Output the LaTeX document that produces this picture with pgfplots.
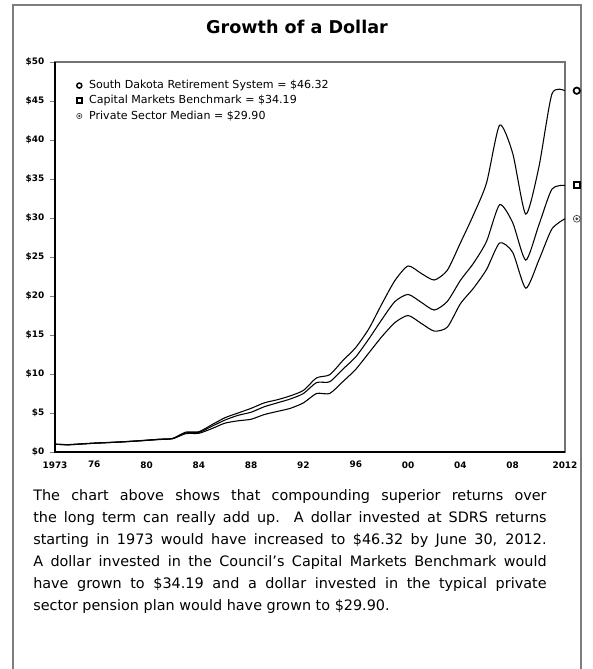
\documentclass[border=0pt]{standalone}
\usepackage{fontspec}
\setmainfont{DejaVu Sans}
\usepackage{pgfplots}
\pgfplotsset{compat=1.18}
\usepackage{pgfplotstable}

\definecolor{framegray}{RGB}{125,125,125}

% circle with a dot in the middle, for the private sector median
\pgfdeclareplotmark{odot}{%
  \pgfpathcircle{\pgfpoint{0pt}{0pt}}{\pgfplotmarksize}\pgfusepathqstroke
  \pgfpathcircle{\pgfpoint{0pt}{0pt}}{0.3\pgfplotmarksize}\pgfusepathqfillstroke}

% growth of $1 invested in 1973: SDRS, capital markets benchmark, private sector median
\pgfplotstableread{
year  sdrs   cmb    psm
1973  1.00   1.00   1.00
1974  0.95   0.93   0.92
1975  1.05   1.02   1.02
1976  1.15   1.12   1.12
1977  1.22   1.20   1.20
1978  1.30   1.28   1.28
1979  1.40   1.38   1.38
1980  1.52   1.50   1.48
1981  1.65   1.62   1.60
1982  1.75   1.72   1.70
1983  2.55   2.45   2.35
1984  2.60   2.50   2.40
1985  3.50   3.30   3.00
1986  4.40   4.10   3.70
1987  5.00   4.70   4.00
1988  5.60   5.10   4.20
1989  6.30   5.80   4.80
1990  6.70   6.30   5.20
1991  7.20   6.80   5.60
1992  7.90   7.50   6.30
1993  9.50   8.90   7.50
1994  9.90   9.00   7.50
1995  11.70  10.60  9.00
1996  13.40  12.20  10.60
1997  15.80  14.50  12.70
1998  19.00  17.00  14.80
1999  22.00  19.30  16.60
2000  23.85  20.20  17.50
2001  22.90  19.20  16.50
2002  22.05  18.20  15.50
2003  23.30  19.30  16.00
2004  26.80  22.00  19.00
2005  30.40  24.20  21.00
2006  34.50  27.00  23.40
2007  41.90  31.70  26.80
2008  38.30  29.40  25.60
2009  30.50  24.60  21.00
2010  36.50  29.10  24.60
2011  45.90  33.70  28.60
2012  46.32  34.19  29.90
}\growth

\begin{document}
\begin{tikzpicture}[x=0.75pt,y=0.75pt]
\useasboundingbox (0,0) rectangle (593,669);
% outer frame (open at the bottom)
\draw[framegray, line width=1.5pt] (13,0) -- (13,664) -- (581,664) -- (581,0);

\node[font=\bfseries\fontsize{13.2}{15}\selectfont] at (297,642) {Growth of a Dollar};

\begin{axis}[
  at={(41.25pt,162.75pt)}, anchor=south west,
  scale only axis, width=382.5pt, height=292.5pt,
  xmin=1973, xmax=2012, ymin=0, ymax=50,
  clip=false,
  axis line style={black!55, line width=0.8pt},
  xtick={1973,1976,1980,1984,1988,1992,1996,2000,2004,2008,2012},
  xticklabels={1973,76,80,84,88,92,96,00,04,08,2012},
  ytick={0,5,...,50},
  yticklabels={\$0,\$5,\$10,\$15,\$20,\$25,\$30,\$35,\$40,\$45,\$50},
  tick label style={font=\bfseries\fontsize{6.7}{7}\selectfont},
  xtick style={draw=none},
  ytick style={black!50, thin},
  ytick pos=left,
  tick align=outside, major tick length=3.5pt,
  yticklabel style={xshift=-1pt},
  legend style={at={(rel axis cs:0.038,0.957)}, anchor=north west,
    draw=none, fill=none, inner sep=0pt, row sep=1.6pt,
    font=\fontsize{8.3}{10}\selectfont,
    nodes={inner sep=1pt}},
  legend cell align=left,
  legend image code/.code={\draw[#1] plot coordinates {(0.1cm,0cm)};
    \path (0,0) (0.3cm,0cm);},
]
\draw[black, line width=1pt] (rel axis cs:0,1) -- (rel axis cs:0,0) -- (rel axis cs:1,0);

\addplot[black, line width=0.8pt, smooth, tension=0.4, forget plot] table[x=year, y=sdrs] {\growth};
\addplot[black, line width=0.8pt, smooth, tension=0.4, forget plot] table[x=year, y=cmb] {\growth};
\addplot[black, line width=0.8pt, smooth, tension=0.4, forget plot] table[x=year, y=psm] {\growth};

% end-value marks right of the axis
\addplot[only marks, mark=o, mark size=2.4pt, line width=1.3pt, forget plot] coordinates {(2012.9,46.32)};
\addplot[only marks, mark=square, mark size=2.3pt, line width=1.6pt, forget plot] coordinates {(2012.9,34.19)};
\addplot[only marks, mark=odot, mark size=2.6pt, black!75, line width=0.5pt, forget plot] coordinates {(2012.9,29.90)};

\addlegendimage{only marks, mark=o, mark size=1.9pt, line width=1.1pt}
\addlegendentry{South Dakota Retirement System = \$46.32}
\addlegendimage{only marks, mark=square, mark size=1.9pt, line width=1.3pt}
\addlegendentry{Capital Markets Benchmark = \$34.19}
\addlegendimage{only marks, mark=odot, mark size=2pt, black!75, line width=0.45pt}
\addlegendentry{Private Sector Median = \$29.90}
\end{axis}

\node[anchor=north west, inner sep=0pt, text width=385pt, align=justify,
      font=\fontsize{10.8}{16.5}\selectfont] at (33,180)
{The chart above shows that compounding superior returns over\linebreak
the long term can really add up.\ \ A dollar invested at SDRS returns\linebreak
starting in 1973 would have increased to \$46.32 by June 30, 2012.\linebreak
A dollar invested in the Council’s Capital Markets Benchmark would\linebreak
have grown to \$34.19 and a dollar invested in the typical private\linebreak
sector pension plan would have grown to \$29.90.};
\end{tikzpicture}
\end{document}
